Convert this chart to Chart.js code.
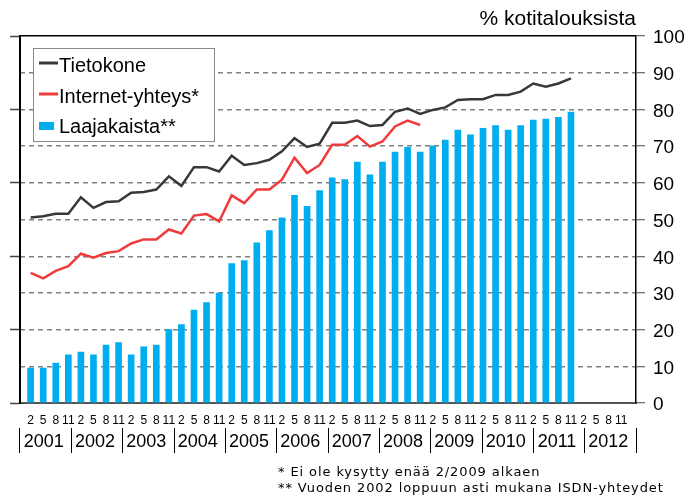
<!DOCTYPE html>
<html>
<head>
<meta charset="utf-8">
<script src="https://cdn.jsdelivr.net/npm/chart.js@4/dist/chart.umd.min.js"></script>
<style>
  html, body { margin: 0; padding: 0; background: #fff; }
  #wrap { width: 688px; height: 500px; }
</style>
</head>
<body>
<div id="wrap"><canvas id="c" width="688" height="500"></canvas></div>
<script>
// ---- data ----
const monthLabels = ['2', '5', '8', '11'];
const years = ['2001','2002','2003','2004','2005','2006','2007','2008','2009','2010','2011','2012'];
const tietokone = [50.6, 50.9, 51.6, 51.6, 56.1, 53.2, 54.8, 55.0, 57.3, 57.5,
                   58.2, 61.8, 59.2, 64.3, 64.3, 63.1, 67.4, 64.9, 65.4, 66.3,
                   68.6, 72.2, 69.8, 70.7, 76.4, 76.4, 77.0, 75.5, 75.8, 79.4,
                   80.3, 78.8, 79.9, 80.6, 82.6, 82.8, 82.8, 84.0, 84.0, 84.9,
                   87.1, 86.2, 87.1, 88.5];
const internet = [35.5, 34.0, 36.0, 37.3, 40.7, 39.6, 40.9, 41.4, 43.5, 44.6,
                  44.6, 47.3, 46.2, 51.1, 51.5, 49.5, 56.6, 54.5, 58.2, 58.2,
                  60.9, 66.9, 62.7, 64.9, 70.4, 70.4, 72.8, 69.9, 71.3, 75.4,
                  77.0, 75.8];
const laajakaista = [9.5, 9.5, 10.9, 13.1, 13.9, 13.1, 15.8, 16.5, 13.1, 15.3,
                     15.8, 20.0, 21.4, 25.3, 27.4, 30.0, 38.0, 38.8, 43.7, 47.0,
                     50.5, 56.6, 53.6, 57.9, 61.4, 60.9, 65.7, 62.2, 65.7, 68.4,
                     69.7, 68.4, 70.1, 71.7, 74.4, 73.1, 74.9, 75.6, 74.4, 75.6,
                     77.1, 77.4, 77.9, 79.3];
const seriesNames = ['Tietokone', 'Internet-yhteys*', 'Laajakaista**'];
const yTitle = '% kotitalouksista';
const footnotes = ['* Ei ole kysytty enää 2/2009 alkaen',
                   '** Vuoden 2002 loppuun asti mukana ISDN-yhteydet'];

const nQuarters = years.length * monthLabels.length;
const toXY = arr => arr.map((v, i) => ({ x: i, y: v }));

Chart.defaults.font.family = "'Liberation Sans', Arial, sans-serif";
Chart.defaults.color = '#000';

const legendPlugin = {
  id: 'boxLegend',
  afterDraw(chart) {
    const ctx = chart.ctx;
    const bx = 33, by = 48, bw = 181, bh = 93;
    ctx.save();
    ctx.fillStyle = '#fff';
    ctx.fillRect(bx, by, bw, bh);
    ctx.strokeStyle = '#8a8a8a';
    ctx.lineWidth = 1;
    ctx.strokeRect(bx + 0.5, by + 0.5, bw, bh);
    ctx.font = "20px 'Liberation Sans', Arial, sans-serif";
    ctx.textBaseline = 'middle';
    ctx.textAlign = 'left';
    const rows = [66, 97, 127];
    chart.data.datasets.forEach((ds, k) => {
      const y = rows[k];
      if (ds.type === 'line') {
        ctx.strokeStyle = ds.borderColor;
        ctx.lineWidth = 3;
        ctx.beginPath();
        ctx.moveTo(39, y - 3);
        ctx.lineTo(58, y - 3);
        ctx.stroke();
      } else {
        ctx.fillStyle = ds.backgroundColor;
        ctx.fillRect(39, y - 5, 15, 8);
      }
      ctx.fillStyle = '#000';
      ctx.fillText(ds.label, 59, y);
    });
    ctx.restore();
  }
};

const footnotePlugin = {
  id: 'footnotes',
  afterDraw(chart) {
    const ctx = chart.ctx;
    ctx.save();
    ctx.font = "13px 'DejaVu Sans', sans-serif";
    try { ctx.letterSpacing = '0.9px'; } catch (e) {}
    ctx.fillStyle = '#000';
    ctx.textBaseline = 'middle';
    ctx.textAlign = 'left';
    footnotes.forEach((t, k) => ctx.fillText(t, 278, 473 + k * 16));
    ctx.restore();
  }
};

new Chart(document.getElementById('c'), {
  data: {
    datasets: [
      { type: 'line', label: seriesNames[0], data: toXY(tietokone), borderColor: '#383838',
        borderWidth: 2.5, pointRadius: 0, tension: 0, order: 1, yAxisID: 'y', xAxisID: 'x' },
      { type: 'line', label: seriesNames[1], data: toXY(internet), borderColor: '#ef3b3b',
        borderWidth: 2.5, pointRadius: 0, tension: 0, order: 2, yAxisID: 'y', xAxisID: 'x' },
      { type: 'bar', label: seriesNames[2], data: toXY(laajakaista), backgroundColor: '#00aeef',
        borderWidth: 0, barThickness: 6, order: 3, yAxisID: 'y', xAxisID: 'x' }
    ]
  },
  options: {
    responsive: false,
    animation: false,
    layout: { padding: { left: 10, right: 0, top: 0, bottom: 45 } },
    plugins: {
      legend: { display: false },
      tooltip: { enabled: false },
      title: {
        display: true, text: yTitle, align: 'end', fullSize: false,
        font: { size: 21, weight: 'normal' }, color: '#000',
        padding: { top: 7, bottom: 4 }
      }
    },
    scales: {
      x: {
        type: 'linear', position: 'bottom', weight: 1,
        min: -0.335, max: nQuarters - 0.335,
        afterBuildTicks: (s) => { s.ticks = Array.from({ length: nQuarters }, (_, i) => ({ value: i })); },
        afterFit: (s) => { s.height = 25; },
        grid: { drawOnChartArea: false, drawTicks: false },
        border: { display: true, color: '#555', width: 2 },
        ticks: {
          autoSkip: false, maxRotation: 0, minRotation: 0, padding: 10,
          font: { size: 12 }, color: '#000',
          callback: (v, i) => monthLabels[i % monthLabels.length]
        }
      },
      x2: {
        type: 'category', labels: years, position: 'bottom', weight: 2, offset: true,
        afterFit: (s) => { s.height = 27; },
        grid: { offset: true, drawOnChartArea: false, drawTicks: true, tickLength: 25,
                tickColor: '#000', tickWidth: 1 },
        border: { display: false },
        ticks: { padding: -22, labelOffset: -2, font: { size: 18 }, color: '#000', maxRotation: 0, autoSkip: false }
      },
      y: {
        type: 'linear', position: 'right', min: 0, max: 100,
        afterFit: (s) => { s.width = 52; },
        ticks: { stepSize: 10, padding: 8, labelOffset: 2, font: { size: 19 }, color: '#000' },
        grid: {
          drawTicks: true, tickLength: 9, tickColor: '#444', tickWidth: 1,
          color: (c) => c.tick && c.tick.value === 0 ? 'rgba(0,0,0,0)' : (c.tick && c.tick.value === 100 ? '#000' : '#808080'),
          lineWidth: 1.5
        },
        border: { display: true, color: '#000', width: 1.5,
                  dash: (c) => (c.tick && c.tick.value < 100 && c.tick.value > 0) ? [5, 4] : [] }
      },
      yL: {
        type: 'linear', position: 'left', min: 0, max: 100,
        afterFit: (s) => { s.width = 10; },
        ticks: { display: false, stepSize: 20 },
        grid: { drawOnChartArea: false, drawTicks: true, tickLength: 10, tickColor: '#444', tickWidth: 1.5 },
        border: { display: true, color: '#000', width: 2 }
      }
    }
  },
  plugins: [legendPlugin, footnotePlugin]
});
</script>
</body>
</html>
